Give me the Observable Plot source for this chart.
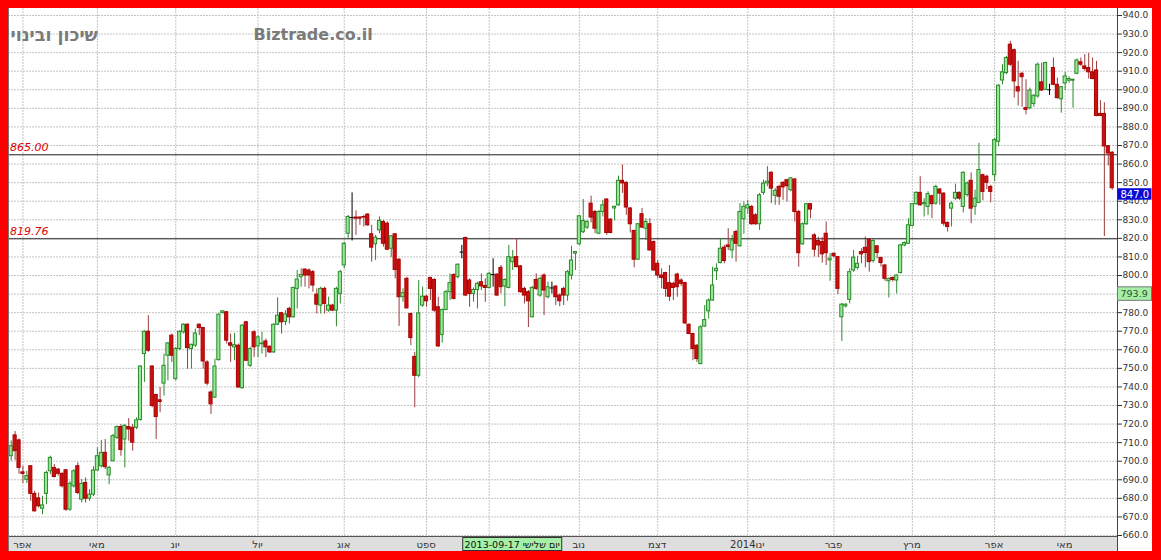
<!DOCTYPE html>
<html><head><meta charset="utf-8">
<script src="https://cdn.jsdelivr.net/npm/d3@7"></script>
<script src="https://cdn.jsdelivr.net/npm/@observablehq/plot@0.6"></script>
<style>
html,body{margin:0;padding:0;background:#ff0000;width:1161px;height:560px;overflow:hidden}
#chart{position:absolute;left:8px;top:8px;width:1144px;height:543px;background:#fff}
#chart svg{display:block}
</style></head><body><div id="chart"></div><script>
// ---- data ----
const stockName = "שיכון ובינוי";
const siteName = "Biztrade.co.il";
const monthIdx = [3,22,42,63,85,106,122,145,165,188,210,230,251,269];
const monthNames = ["אפר","מאי","יונ","יול","אוג","ספט","אוק","נוב","דצמ","2014ינו","פבר","מרץ","אפר","מאי"];
const levels = [865.00, 819.76];
const yTicks = d3.range(660, 941, 10);
const lastPrice = 847.0;
const cursorValue = 793.9;
const cursorIndex = 128;
const cursorDate = "2013-09-17";
const cursorDay = "יום שלישי";

const open = [
702.7,713.9,711.2,694,690,697.3,682.4,680,674.4,682.4,
694.6,696.4,695.5,693.2,695.1,673.9,686.5,697.3,679.3,688.3,
679.8,682,695,697.3,704.5,692.4,700,712.6,718.4,711.7,
718.4,718,718,722.2,757.7,769.7,751,735.7,732.8,741.8,
756.8,767.6,744.2,760.4,769.4,773.5,760.4,762.2,773.5,771.7,
753.2,737,734.2,754.4,779.7,780.2,763.5,761.3,762.2,739.3,
774.8,751.4,769.4,761.8,763,764.5,761.6,758.6,773.5,779.7,
775,
782,777.5,792.8,799.1,803.2,802.7,801.8,789.7,783.8,792.8,
781.1,783.8,781.1,790.1,805.4,822.5,831.2,831.2,831.2,831.5,
832.8,822.2,816.8,824.3,828.8,827.9,814.4,822.2,808.5,788.3,
798.2,779.3,756.2,746,783.8,788.6,798.7,797.6,782.9,767.9,
781.4,791,800.3,799.1,812.6,820.2,797.3,790.1,792.2,796.4,
794.4,793.3,800.5,800.5,804.1,794.1,793.3,807.2,809.9,804.9,
792.8,791,777.5,797.6,789.2,800,788.3,793.3,794,789.2,
792.8,
789.2,800,811.8,816.8,823.3,825.8,838.7,834.2,822.5,834.2,
840.9,830.1,836.1,837.8,851,849.9,836.1,824,808.5,833,
825.2,827.6,818,806.3,800,801.3,795.9,795.5,800.5,797.3,
795.9,773.5,768.5,762.2,752.3,772.5,780.7,786.5,802.3,806.7,
815,816.2,813.5,823.4,815.7,830.3,836.1,836.9,832.4,827.6,
844.5,849.6,855.3,842.9,847.7,849.9,851.3,845.9,851.7,834.2,
816.8,827.6,838.4,821.6,818.6,818,822.5,808.1,811.7,809.9,
777.5,783.4,
786.9,802.7,804.1,812.6,814.9,819.3,807.8,815.7,809.4,805.4,
796.9,798.7,797.3,801.3,816.2,817.1,826.7,838.4,844.5,838.4,
836.9,842.7,838.7,846.3,844.1,828.3,836,841.4,844.5,836.9,
843.3,851,837,839.1,854,853.2,847.7,854,872,905,
909,924.3,921.3,901.4,908.6,890.1,890.1,892.4,896.4,904,
900,900,911.7,902.7,894.9,903.4,904.9,904.9,908.6,914.8,
912.6,911.7,909.4,910.4,887,887,869.6,866.1
];
const high = [
711,716,712,697.3,694.6,697.5,683.8,682.9,681.1,694.6,
702.7,698.2,696,693.7,695.5,689,695.5,699.1,690.1,691,
684.7,697,707.2,711.2,711.7,697.3,714.4,719,719.8,719.8,
723,719.8,723.4,751.4,770.3,778.4,751.4,736,739.7,757.7,
764,768.5,761.3,770.3,774,773.9,763,771.2,773.9,772.1,
754.1,737.9,755,779.3,781.1,780.7,768.5,768.8,763.1,773.5,
775.3,761.3,770.3,767.6,769.4,765.8,762.2,773.9,788,780.2,
781,
782.9,793.7,802.7,803.6,803.6,803.6,802.7,792.8,793.7,793.7,
788.3,784.5,793.7,802.7,818,832.4,844.5,834.8,831.5,832.4,
833.3,827,821.6,831.5,829.7,828.8,821.6,822.5,809,792.8,
799.1,779.6,758.6,797.3,793.7,789.2,799.1,798.2,788.3,782,
791.9,800.9,800.9,806.3,816.2,820.7,798.2,793.3,796.4,800.9,
798.2,801.8,809,800.9,805.4,798.2,816.2,813.5,819.8,805.4,
793.7,791.9,794.1,800.9,799.1,800.9,796.4,796.4,794.6,790.1,
793.7,
802.7,815.7,812.8,832.4,840.9,829.7,842.7,835.1,835,840.5,
841.4,830.6,837.3,853.5,859.5,850.5,836.6,824.3,828,836.1,
830.6,830.6,818.6,808.1,803.6,801.8,805.4,796.4,801.3,798.2,
796.4,773.9,768.8,762.7,773,783.8,787.4,804.5,806.3,819.8,
816.2,825.2,821.6,824.3,838.7,839.6,840.5,837.8,833.3,844.2,
851.3,858.6,855.9,846.8,848.6,850.5,851.7,852.8,852.3,835.1,
828.3,838.7,838.7,822.5,820.7,820.4,828.8,811.7,812,810.3,
785,784.8,
803.6,813.5,810.3,814.4,820.7,819.8,819.3,816.2,809.9,806,
798.7,799.2,800.4,816.8,818,830.6,838.7,845.1,853.2,841.4,
845.1,843.2,848.6,846.8,844.5,828.8,839.6,849.2,845,855.8,
850.4,855.3,846,871.2,854.6,854,848.6,873.8,902.7,913.5,
918,926.1,922,915.3,909.4,905.4,900.9,897.3,914.4,914.4,
914.8,903,917.1,906.3,901.8,909.4,907,905.6,916.6,917.1,
918.9,919.5,917.1,915.3,894.2,893,870,866.7
];
const low = [
700,700.4,693,688,688,678.4,672.6,674.8,671.2,676.6,
692.8,691,692,685.6,673,673,685.6,682,677.5,677.5,
678.4,681,694.6,696.4,695.5,687.4,699.7,711.7,702.7,696.4,
710.8,705.4,717,721.6,742.4,758.6,728.8,711.7,726.1,735.1,
743.3,753.2,743.3,759.5,768.5,749.6,749.6,761.3,767.6,749.6,
740.6,725.2,733.9,754,779.3,763.1,753.2,754.1,739.3,738.8,
753.7,750.5,755.9,755.9,757.7,755.9,758,758,773,768.5,
773,
773.9,777.1,782,793.7,793.7,792.8,791,779.3,779.3,779.3,
780.2,780.5,772.4,784.7,803.6,819.8,818.6,821.6,827,826.1,
826.5,807.2,808.1,822.5,815.3,813.5,809.6,798.2,772.6,785.6,
782,762.2,728.8,745,782.9,782.9,786.5,780.2,761.3,763.6,
781.1,786.5,786.9,798.2,809,788.6,782.9,785.6,782,791.9,
785.6,792.8,793.7,788.6,790.1,783.2,792.8,802.7,804.1,790.5,
784.7,772,777.1,791.9,788.3,778.4,787.4,790.1,783.8,783.2,
783.8,
786.1,797.6,802.7,816.2,822.5,824.7,828.3,822.5,822,831.5,
821.6,822.5,829.4,837.3,844.2,832.4,822.9,804.1,808.1,825.2,
819,813.1,802.2,798.2,792.8,788.3,786.1,786.5,788.3,794.1,
773.5,768.1,754.1,753.2,751.9,772.1,776.6,786.1,797.3,806.3,
806.3,813.5,809,807.2,815.3,822.2,833,827,827,824.3,
843.2,847.8,838.7,837.8,837.8,840.5,839.6,845,828.8,804.5,
816.2,827,830.6,810,809.6,806.7,805.4,796.9,809.5,789.7,
764.5,782.5,
784.7,801.8,803,806.3,804.1,801.8,806.7,809,804.5,796.9,
787.9,796.4,790.1,800.9,815.5,816.8,826.1,838,837.3,831.5,
832.4,830.6,837.8,837.8,826.5,823.4,826.1,840.5,840.5,833.7,
842.3,827.9,832.4,838.7,840.2,846.3,839.1,850.4,869.4,902.7,
908.1,912.6,895.5,891.3,890.6,886.5,889.2,890.6,895.5,899.1,
899.6,897,902.2,895,887.4,899.6,903.5,890.1,908.1,912.6,
909.9,905.8,905.4,885.5,885.5,821,859,845.9
];
const close = [
708.1,705.4,696.4,693.2,692,682.4,673,675.7,676.2,693.7,
701.8,691.5,693.2,686.5,673.9,687.8,694.6,682.9,687.8,679.8,
682,695,702.7,704.5,696.8,696.4,713.5,718.4,706,719,
717.1,710,722,751,769.7,759.5,729.7,723.8,731.9,751.4,
763.4,756.8,760.4,769.7,773.5,760.9,762.7,768.8,771.7,753.7,
741.8,730.6,751,778.9,780.7,764.9,762.2,762.5,739.7,773,
754.1,760.4,761.3,766.7,763.4,761.3,758.6,773.5,778.4,774.8,
779,
777.5,793.3,797.8,800.3,800,800,794.6,784.3,792.8,784.7,
783.8,781.1,792.8,801.8,817.1,831.5,831.2,830.6,830.6,831.2,
827,815,820.4,829.4,817.1,813.9,821.1,803,788.3,790.5,
782.3,766.3,746,779.6,788.6,786.1,792.8,781.1,761.8,781.4,
791,795.9,787.4,805.8,812.6,789.2,790.1,792.2,795.5,794.1,
793.3,800.9,800.5,789.2,793.7,797.6,809.9,809.6,804.5,791,
789.2,786.1,793.3,792.8,798.2,791.9,793.7,793.3,788.3,786.1,
789.2,
801.8,808.1,812.6,831.9,829.3,828.8,831.2,825.2,834.2,837.8,
822.9,822.9,837,851,849.6,836.6,827.6,808.5,827.6,825.8,
828.8,813.5,802.7,800,798.7,792.8,788.6,793.3,793.7,795.5,
774.2,768.5,760.4,755,772.1,776,786.5,794.6,803.6,814.4,
807.8,815.3,818.9,817.1,834.2,837,837.8,827.6,827.6,843.2,
849.5,850.5,846.8,845.6,842.4,847.4,848.1,852.3,834.2,812,
827.6,838.4,835.5,813.9,816.2,811.4,812,809,810.3,792.8,
784.3,784.3,
801.8,809.6,806.3,811.4,812.1,807.2,818.6,812.1,806.7,798.2,
798.2,797.6,800,816.2,817.5,827,838.4,844.5,837.8,839.1,
843.8,838.4,847.7,844.1,827.9,826.1,838.7,844.5,841.4,855.3,
849.5,836,841.4,856.8,845,849.9,845,872.9,902.2,909.4,
917.1,913.5,904.5,899.1,906.8,889.2,899.6,896.8,913.5,899.6,
914.4,900,902.7,895.5,901.4,907.2,905.8,905.4,915.8,913.5,
911.2,909.4,905.8,885.9,885.9,869.5,865.7,847
];

// ---- build ----
if (![high.length, low.length, close.length].every(n => n === open.length)) {
  throw new Error("length mismatch " + [open.length, high.length, low.length, close.length]);
}
const candles = open.map((o, i) => ({i, open: o, high: high[i], low: low[i], close: close[i]}));
const n = candles.length;
const upFill = "#96e896", upStroke = "#2b8a2b";
const downFill = "#cc1010", downStroke = "#a80000", downWick = "#9a3c3c";
const bodyColor = d => d.close > d.open ? upFill : downFill;
const edgeColor = d => d.close > d.open ? upStroke : downStroke;
const wickColor = d => d.close > d.open ? upStroke : d.close < d.open ? downWick : "#000";
const bodies = candles.filter(d => d.open !== d.close);
const dojis = candles.filter(d => d.open === d.close);
const monthLabel = new Map(monthIdx.map((m, k) => [m, monthNames[k]]));

// the value box on the axis hides the tick label beneath it
const yRange = [527, 7], yDomain = [660, 940];
const pxPerUnit = (yRange[0] - yRange[1]) / (yDomain[1] - yDomain[0]);
const valueBoxH = 13.5;
const hiddenByCursor = t => t <= cursorValue && t >= cursorValue - valueBoxH / pxPerUnit;

const chart = Plot.plot({
  width: 1144, height: 543,
  marginLeft: 0, marginTop: 0, marginRight: 35, marginBottom: 15,
  style: {fontFamily: "'DejaVu Sans', Verdana, sans-serif", fontSize: "9px", color: "#333", background: "#fff", overflow: "visible"},
  x: {domain: [0, n - 1], range: [2.7, 1103.7], axis: null},
  y: {domain: yDomain, range: yRange, axis: null},
  color: {type: "identity"},
  marks: [
    Plot.ruleY(yTicks, {stroke: "#c4c4c4", strokeDasharray: "2,1"}),
    Plot.ruleX(monthIdx, {stroke: "#c4c4c4", strokeDasharray: "2,1"}),
    Plot.ruleY(levels, {stroke: "#1e1e1e"}),
    Plot.text(levels, {y: d => d, text: d => d.toFixed(2), frameAnchor: "left", dx: 1.5, dy: -4,
      textAnchor: "start", lineAnchor: "bottom", fill: "#e00000", fontStyle: "italic", fontSize: 11}),
    Plot.ruleX(candles, {x: "i", y1: d => Math.min(d.low, d.open, d.close), y2: d => Math.max(d.high, d.open, d.close), stroke: wickColor}),
    Plot.rect(bodies, {x1: d => d.i - 0.4, x2: d => d.i + 0.4, y1: "open", y2: "close", fill: bodyColor, stroke: edgeColor, strokeWidth: 1}),
    Plot.ruleY(dojis, {y: "open", x1: d => d.i - 0.45, x2: d => d.i + 0.45, stroke: "#000"}),
    Plot.text([stockName], {frameAnchor: "top-left", dx: 2, dy: 32, textAnchor: "start", lineAnchor: "bottom",
      fontSize: 17.5, fontWeight: "bold", fill: "#7a7a7a"}),
    Plot.text([siteName], {frameAnchor: "top-left", dx: 245, dy: 31, textAnchor: "start", lineAnchor: "bottom",
      fontSize: 16, fontWeight: "bold", fill: "#7a7a7a"}),
    Plot.axisY(yTicks, {anchor: "right", tickSize: 4, tickPadding: 1,
      tickFormat: d => hiddenByCursor(d) ? "" : d.toFixed(1), fontSize: 9, label: null}),
  ]
});

const svg = d3.select(chart);
const xs = chart.scale("x"), ys = chart.scale("y");
const plotRight = 1109, plotBottom = 528, H = 543;
// bottom strip behind marks
svg.insert("rect", ":first-child").attr("x", 0).attr("y", plotBottom).attr("width", plotRight).attr("height", H - plotBottom).attr("fill", "#dedede");
svg.insert("rect", ":first-child").attr("x", 0).attr("y", 0).attr("width", 1144).attr("height", H).attr("fill", "#fff");
// month labels in strip (the one under the date box is hidden, as in the original)
const cx = xs.apply(cursorIndex);
const boxW = 99;
const g = svg.append("g").attr("font-size", 10).attr("fill", "#333").attr("text-anchor", "middle");
monthIdx.forEach(m => {
  const x = xs.apply(m);
  if (Math.abs(x - cx) < boxW / 2 + 10) return;
  g.append("text").attr("x", x).attr("y", plotBottom + 11.5).text(monthLabel.get(m));
});
// borders
svg.append("line").attr("x1", 0).attr("x2", plotRight).attr("y1", plotBottom + 0.5).attr("y2", plotBottom + 0.5).attr("stroke", "#555");
svg.append("line").attr("x1", 0.5).attr("x2", 0.5).attr("y1", 0).attr("y2", H).attr("stroke", "#777");
svg.append("line").attr("x1", plotRight + 0.5).attr("x2", plotRight + 0.5).attr("y1", 0).attr("y2", H).attr("stroke", "#444");
// crosshair date box
svg.append("rect").attr("x", cx - boxW / 2).attr("y", plotBottom + 1.5).attr("width", boxW).attr("height", 13).attr("fill", "#a6efa6").attr("stroke", "#333");
svg.append("text").attr("x", cx).attr("y", plotBottom + 11.5).attr("text-anchor", "middle").attr("font-size", 9.5).attr("fill", "#111").text(cursorDate + " " + cursorDay);
// crosshair value box
const vy = ys.apply(cursorValue);
svg.append("rect").attr("x", plotRight + 0.5).attr("y", vy + 0.5).attr("width", 34).attr("height", valueBoxH).attr("fill", "#a6efa6").attr("stroke", "#777");
svg.append("text").attr("x", plotRight + 3.5).attr("y", vy + 10.5).attr("text-anchor", "start").attr("font-size", 9.5).attr("fill", "#2f4f2f").text(cursorValue.toFixed(1));
// last price box
const ly = ys.apply(lastPrice);
svg.append("rect").attr("x", plotRight + 0.5).attr("y", ly + 0.5).attr("width", 34).attr("height", 11.5).attr("fill", "#0a0ad8");
svg.append("text").attr("x", plotRight + 3.5).attr("y", ly + 10).attr("text-anchor", "start").attr("font-size", 10).attr("fill", "#fff").text(lastPrice.toFixed(1));

document.getElementById("chart").appendChild(chart);
</script></body></html>
